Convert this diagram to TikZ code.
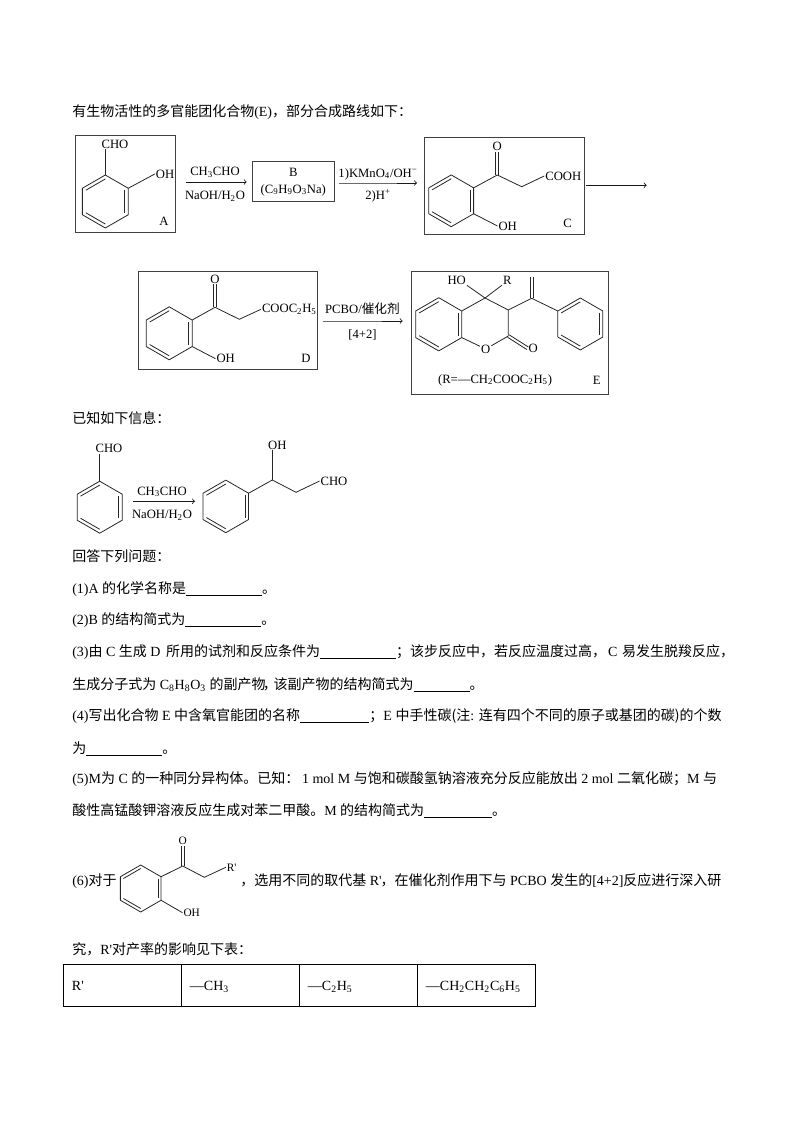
\documentclass[tikz,border=0pt]{standalone}
\usepackage{fontspec}
\setmainfont{Liberation Serif}
\newfontfamily\cjk{Noto Sans CJK SC}
\newfontfamily\plainlat{Liberation Serif}
\usetikzlibrary{positioning,arrows,calc}
\newcommand{\zh}[1]{{\cjk #1}}
\newcommand{\sbs}[1]{\textsubscript{#1}}
\newcommand{\blank}[1]{\underline{\hspace{#1pt}}}
\newcommand{\rpr}{{\plainlat R'}}
% full width punctuation
\newcommand{\fc}{{\cjk\char"FF0C\relax}}
\newcommand{\fs}{{\cjk\char"FF1A\relax}}
\newcommand{\fm}{{\cjk\char"FF1B\relax}}
\tikzstyle{bond}=[draw=black!85, line width=.6pt]
\tikzstyle{rarrow}=[->, draw=black!90, line width=.6pt]
\tikzstyle{chem}=[inner sep=0pt, outer sep=.8pt, font=\fontsize{9.5}{11}\selectfont]
\tikzstyle{smallchem}=[inner sep=0pt, outer sep=.8pt, font=\fontsize{8.5}{10}\selectfont]
\tikzstyle{cbox}=[rectangle, draw=black!75, line width=.75pt, inner sep=0pt]
\tikzstyle{txt}=[inner sep=0pt, anchor=base west, font=\fontsize{10.5}{12}\selectfont]
\tikzstyle{tcell}=[rectangle, draw=black, line width=.7pt, outer sep=0pt, inner xsep=6.5pt,
                   text width=75.5pt, text height=10pt, text depth=2pt, minimum height=31.3pt,
                   align=left, font=\fontsize{10.5}{12}\selectfont]
% name, centre x, centre y, radius
\newcommand{\benzring}[4]{
  \coordinate (#1c) at (#2,#3);
  \foreach \k/\a in {1/-90,2/-30,3/30,4/90,5/150,6/210}
    \coordinate (#1\k) at ($(#1c)+(\a:#4)$);
  \draw[bond, line join=round] (#11) -- (#12) -- (#13) -- (#14) -- (#15) -- (#16) -- cycle;
  \draw[bond] ($(#1c)!.85!(#16)$) -- ($(#1c)!.85!(#11)$);
  \draw[bond] ($(#1c)!.85!(#12)$) -- ($(#1c)!.85!(#13)$);
  \draw[bond] ($(#1c)!.85!(#14)$) -- ($(#1c)!.85!(#15)$);
}
\newcommand{\dbl}[2]{
  \draw[bond] ($(#1)!1.1pt!90:(#2)$) -- ($(#2)!1.1pt!-90:(#1)$);
  \draw[bond] ($(#1)!1.1pt!-90:(#2)$) -- ($(#2)!1.1pt!90:(#1)$);
}
\begin{document}
\begin{tikzpicture}[x=.75pt, y=-.75pt]
\useasboundingbox (0,0) rectangle (794,1123);

\node (Intro) [txt] at (72,117) {\zh{有生物活性的多官能团化合物}(E)\fc\zh{部分合成路线如下}\fs};

% compound A
\node (boxA) [cbox, minimum width=75.3pt, minimum height=72.2pt] at (125.5,184) {};
\benzring{A}{105.3}{201.5}{26.5}
\node (aCHO) [chem] at (115,144) {CHO};
\node (aOH) [chem] at (165,174) {OH};
\node (aLab) [chem] at (164,221) {A};
\draw[bond] (A1) -- (A1 |- aCHO.south);
\draw[bond] (A2) -- (aOH.west);

\coordinate (a1s) at (186,182);
\coordinate (a1m) at (215,182);
\coordinate (a1e) at (246.7,182);
\draw[rarrow] (a1s) -- (a1e);
\node (a1t) [chem, above=2.5pt of a1m] {CH\sbs{3}CHO};
\node (a1b) [chem, below=6pt of a1m] {NaOH/H\sbs{2}O};

% compound B
\node (boxB) [cbox, minimum width=61.5pt, minimum height=30pt, align=center, font=\fontsize{9.5}{12.5}\selectfont] at (293.3,182) {B\\(C\sbs{9}H\sbs{9}O\sbs{3}Na)};

\coordinate (a2s) at (338.7,183);
\coordinate (a2m) at (378,183);
\coordinate (a2e) at (417,183);
\draw[rarrow] (a2s) -- (a2m) -- (a2e);
\node (a2t) [chem, above=1.5pt of a2m] {1)KMnO\sbs{4}/OH\textsuperscript{−}};
\node (a2b) [chem, below=4pt of a2m] {2)H\textsuperscript{+}};

% compound C
\node (boxC) [cbox, minimum width=119.8pt, minimum height=73pt] at (504.2,186.3) {};
\benzring{C}{451.2}{200.8}{25.9}
\coordinate (cCO) at (497.3,175);
\coordinate (cCH) at (521.7,186.7);
\node (cO) [chem] at (497.3,146.7) {O};
\node (cCOOH) [chem] at (563.3,176) {COOH};
\node (cOH) [chem] at (507.7,226) {OH};
\node (cLab) [chem] at (567.7,223) {C};
\dbl{cCO}{cO.south}
\draw[bond] (C2) -- (cCO) -- (cCH) -- (cCOOH.west);
\draw[bond] (C3) -- (cOH.west);

\coordinate (a3s) at (586,185.3);
\coordinate (a3e) at (646.7,185.3);
\draw[rarrow] (a3s) -- (a3e);

% compound D
\node (boxD) [cbox, minimum width=134.5pt, minimum height=73.7pt] at (228,320.8) {};
\benzring{D}{169.2}{333.3}{26.5}
\coordinate (dCO) at (215,307.3);
\coordinate (dCH) at (239.3,319.3);
\node (dO) [chem] at (215,279) {O};
\node (dCOOC) [chem] at (289.3,309.3) {COOC\sbs{2}H\sbs{5}};
\node (dOH) [chem] at (225.7,358.7) {OH};
\node (dLab) [chem] at (306,358.7) {D};
\dbl{dCO}{dO.south}
\draw[bond] (D2) -- (dCO) -- (dCH) -- (dCOOC.west);
\draw[bond] (D3) -- (dOH.west);

\coordinate (a4s) at (323.3,321);
\coordinate (a4m) at (362.5,321);
\coordinate (a4e) at (402.7,321);
\draw[rarrow] (a4s) -- (a4m) -- (a4e);
\node (a4t) [chem, above=4pt of a4m] {PCBO/\zh{催化剂}};
\node (a4b) [chem, below=5.5pt of a4m] {[4+2]};

% compound E
\node (boxE) [cbox, minimum width=148pt, minimum height=92.5pt] at (510.3,333.3) {};
\benzring{Ea}{438.7}{324.3}{26.6}
\benzring{Eb}{580.3}{324}{26}
\coordinate (eC4) at (485,298);
\coordinate (eC3) at (508.3,310);
\coordinate (eC2) at (508.3,336);
\coordinate (eVi) at (531.7,298.3);
\coordinate (eCH) at (531.7,276.7);
\node (eO) [chem] at (485.7,349) {O};
\node (eOo) [chem] at (533.3,348.3) {O};
\node (eHO) [chem] at (456.7,280) {HO};
\node (eR) [chem] at (507.3,280) {R};
\node (eRdef) [chem] at (495,380) {(R=—CH\sbs{2}COOC\sbs{2}H\sbs{5})};
\node (eLab) [chem] at (596.7,380) {E};
\dbl{eC2}{eOo.west}
\dbl{eVi}{eCH}
\draw[bond] (Ea2) -- (eC4) -- (eC3) -- (eC2) -- (eO) -- (Ea3);
\draw[bond] (eC4) -- (eHO.south east);
\draw[bond] (eC4) -- (eR.south west);
\draw[bond] (eC3) -- (eVi) -- (Eb6);

\node (Known) [txt] at (72,423) {\zh{已知如下信息}\fs};

% known reaction
\benzring{P}{99.7}{507.2}{26}
\node (pCHO) [chem] at (109,448.3) {CHO};
\draw[bond] (P1) -- (P1 |- pCHO.south);

\coordinate (a5s) at (133.3,501.3);
\coordinate (a5m) at (162,501.3);
\coordinate (a5e) at (195,501.3);
\draw[rarrow] (a5s) -- (a5m) -- (a5e);
\node (a5t) [chem, above=2.5pt of a5m] {CH\sbs{3}CHO};
\node (a5b) [chem, below=6pt of a5m] {NaOH/H\sbs{2}O};

\benzring{Q}{225.8}{506.4}{26.3}
\coordinate (qCH) at (272.3,480);
\coordinate (qCH2) at (296,492.3);
\node (qOH) [chem] at (277.3,445) {OH};
\node (qCHO) [chem] at (334,481) {CHO};
\draw[bond] (Q2) -- (qCH) -- (qCH2) -- (qCHO.west);
\draw[bond] (qCH) -- (qCH |- qOH.south);

\node (Ask) [txt] at (72,561.5) {\zh{回答下列问题}\fs};
\node (Q1) [txt] at (72,593.5) {(1)A \zh{的化学名称是}\blank{57}\zh{。}};
\node (Q2l) [txt] at (72,624.5) {(2)B \zh{的结构简式为}\blank{57}\zh{。}};
\node (Q3) [txt] at (72,656) {(3)\zh{由} C \zh{生成} D \hspace{1.5pt}\zh{所用的试剂和反应条件为}\blank{57}\fm\zh{该步反应中}\fc\zh{若反应温度过高}\fc\hspace{1.5pt}C\hspace{1pt} \zh{易发生脱羧反应}\fc};
\node (Q3b) [txt] at (72,689) {\zh{生成分子式为} C\sbs{8}H\sbs{8}O\sbs{3} \zh{的副产物}\hspace{-2pt}\fc\hspace{-2.5pt}\zh{该副产物的结构简式为}\blank{42}\zh{。}};
\node (Q4) [txt] at (72,720.5) {(4)\zh{写出化合物} E \zh{中含氧官能团的名称}\blank{52}\fm E \zh{中手性碳(注}: \zh{连有四个不同的原子或基团的碳)的个数}};
\node (Q4b) [txt] at (72,753) {\zh{为}\blank{57}\zh{。}};
\node (Q5) [txt] at (72,783.5) {(5)M\zh{为} C \zh{的一种同分异构体。已知}\fs\hspace{2pt}1 mol M \zh{与饱和碳酸氢钠溶液充分反应能放出} 2 mol \zh{二氧化碳}\fm M \zh{与}};
\node (Q5b) [txt] at (72,815.5) {\zh{酸性高锰酸钾溶液反应生成对苯二甲酸。}M \zh{的结构简式为}\blank{51}\zh{。}};

% question 6
\node (Q6) [txt] at (72,885) {(6)\zh{对于}};
\benzring{S}{140.7}{888.5}{23.5}
\coordinate (sCO) at (182.7,866);
\coordinate (sCH) at (204.3,877.3);
\node (sO) [smallchem] at (182.7,840.7) {O};
\node (sR) [smallchem] at (231.7,867.3) {\rpr};
\node (sOH) [smallchem] at (191.7,912.7) {OH};
\dbl{sCO}{sO.south}
\draw[bond] (S2) -- (sCO) -- (sCH) -- (sR.west);
\draw[bond] (S3) -- (sOH.west);
\node (Q6b) [txt] at (240,885) {\fc\zh{选用不同的取代基} \rpr\hspace{-.7pt}\fc\zh{在催化剂作用下与} PCBO \zh{发生的}[4+2]\zh{反应进行深入研}};
\node (Q6c) [txt] at (72,954) {\zh{究}\fc\rpr\zh{对产率的影响见下表}\fs};

% table
\node (T1) [tcell] at (122.3,985.2) {\rpr};
\node (T2) [tcell, right=0pt of T1] {—CH\sbs{3}};
\node (T3) [tcell, right=0pt of T2] {—C\sbs{2}H\sbs{5}};
\node (T4) [tcell, right=0pt of T3] {—CH\sbs{2}CH\sbs{2}C\sbs{6}H\sbs{5}};

\end{tikzpicture}
\end{document}
